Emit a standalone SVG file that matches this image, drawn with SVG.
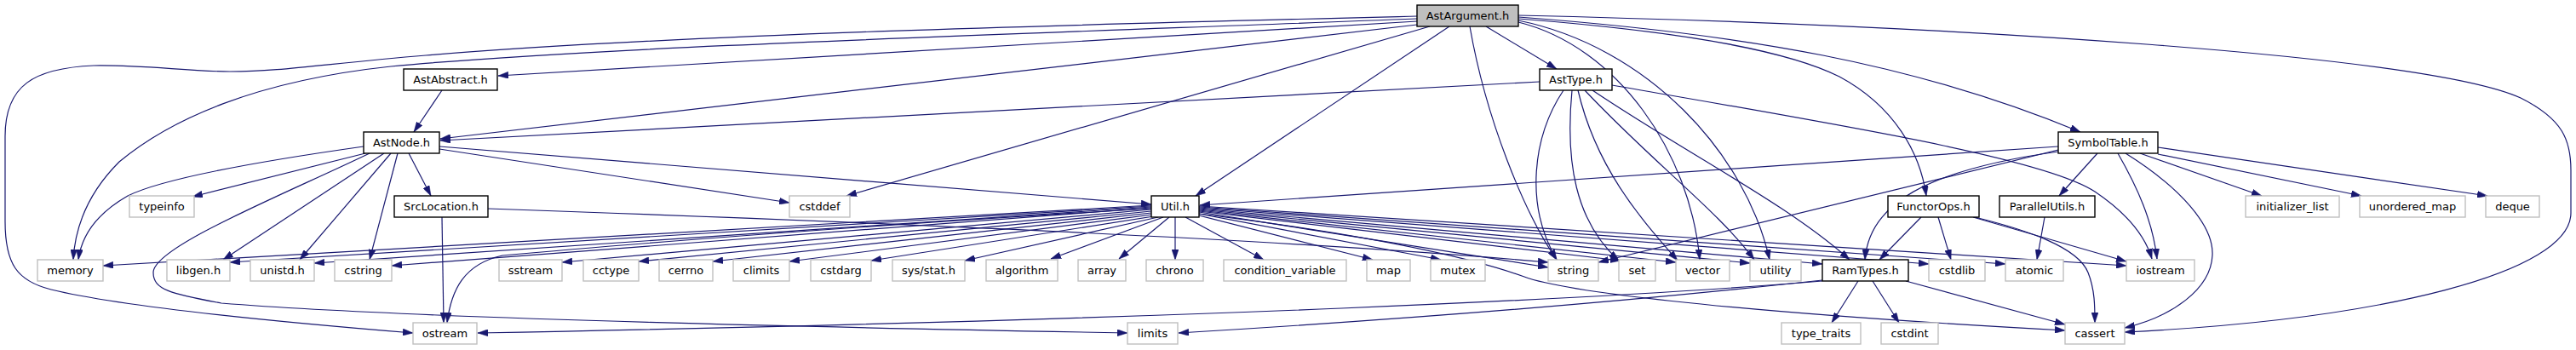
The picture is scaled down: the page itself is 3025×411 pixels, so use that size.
<svg xmlns="http://www.w3.org/2000/svg" width="3025" height="411" viewBox="0 0 3025 411">
<style>
.e path{fill:none;stroke:#191970;stroke-width:1.2;marker-end:url(#a)}
.inc rect{fill:#fff;stroke:#000;stroke-width:1.4}
.sys rect{fill:#fff;stroke:#bfbfbf;stroke-width:1.4}
.root rect{fill:#bfbfbf;stroke:#000;stroke-width:1.4}
text{font-family:"DejaVu Sans",sans-serif;font-size:13px;text-anchor:middle;fill:#000}
</style>
<defs>
<marker id="a" markerUnits="userSpaceOnUse" markerWidth="12" markerHeight="8" refX="12" refY="4" orient="auto"><path d="M0,0 L12,4 L0,8 z" fill="#191970" stroke="#191970" stroke-width="0.5"/></marker>
</defs>
<rect width="3025" height="411" fill="#fff"/>
<g id="edges" class="e">
<path d="M1664,25 L585,89"/>
<path d="M1664,29 L517,163"/>
<path d="M1745,31 L1828,81"/>
<path d="M1702,31 L1404,230"/>
<path d="M1679,31 L994,230"/>
<path d="M1726,31 C1745,140 1790,250 1828,305"/>
<path d="M1783,26 C1900,55 1985,180 1996,305"/>
<path d="M1783,24 C1935,55 2050,180 2078,305"/>
<path d="M1783,22 C1950,35 2090,55 2160,90 C2225,125 2255,180 2262,230"/>
<path d="M1783,20 C2050,40 2250,75 2443,155"/>
<path d="M1783,18 C2300,30 2850,65 2960,115 C3010,140 3019,165 3019,200 L3019,250 C3019,320 2800,375 2495,390"/>
<path d="M1664,22 C1200,40 700,55 459,78 C300,95 200,140 140,190 C100,230 88,270 86,305"/>
<path d="M1664,19 C1300,28 800,40 500,65 C380,75 330,84 270,84 C220,84 170,76 110,77 C40,80 6,100 6,160 L6,260 C6,310 20,330 60,340 C150,362 350,380 485,391"/>
<path d="M519,106 L486,155"/>
<path d="M1808,96 L517,165"/>
<path d="M1836,106 C1800,160 1790,240 1828,305"/>
<path d="M1846,106 C1838,190 1850,260 1901,306"/>
<path d="M1853,106 C1875,200 1930,260 1970,306"/>
<path d="M1861,106 C1940,190 2020,250 2060,305"/>
<path d="M1870,106 C1980,180 2100,240 2172,305"/>
<path d="M1893,100 C2150,145 2400,185 2460,225 C2500,252 2520,280 2527,304"/>
<path d="M2417,172 L1409,241"/>
<path d="M2417,176 L1877,308"/>
<path d="M2417,178 C2260,200 2195,240 2190,305"/>
<path d="M2463,180 L2418,230"/>
<path d="M2487,180 C2510,220 2528,260 2533,304"/>
<path d="M2496,180 C2560,220 2600,265 2598,300 C2596,340 2550,372 2495,385"/>
<path d="M2513,180 L2656,230"/>
<path d="M2534,181 L2773,230"/>
<path d="M2534,173 L2921,230"/>
<path d="M2256,255 L2207,305"/>
<path d="M2276,255 L2291,305"/>
<path d="M2317,255 L2497,307"/>
<path d="M2319,255 C2380,270 2440,290 2452,320 C2460,340 2460,360 2460,379"/>
<path d="M2401,255 L2392,305"/>
<path d="M2140,330 C1900,350 1400,375 561,391"/>
<path d="M2140,329 C1950,350 1700,372 1384,391"/>
<path d="M2182,330 L2151,379"/>
<path d="M2199,330 L2230,379"/>
<path d="M2238,330 L2425,381"/>
<path d="M519,255 L521,379"/>
<path d="M573,245 C1000,260 1500,280 1818,308"/>
<path d="M427,172 C300,190 190,210 150,230 C115,250 96,275 92,305"/>
<path d="M429,180 L226,231"/>
<path d="M434,180 C330,230 180,290 180,320 C180,340 200,345 260,356 C500,375 1000,385 1324,391"/>
<path d="M451,180 L262,305"/>
<path d="M459,180 L352,305"/>
<path d="M467,180 L434,305"/>
<path d="M480,180 L506,230"/>
<path d="M516,175 L927,238"/>
<path d="M516,172 L1352,240"/>
<path d="M1352,241 L121,312"/>
<path d="M1352,242 L270,308"/>
<path d="M1352,243 L369,309"/>
<path d="M1352,244 L460,312"/>
<path d="M1352,246 L660,308"/>
<path d="M1352,248 L750,307"/>
<path d="M1352,250 L837,307"/>
<path d="M1352,245 C1000,265 700,290 590,300 C545,310 530,340 525,379"/>
<path d="M1353,252 L927,307"/>
<path d="M1355,254 L1023,306"/>
<path d="M1360,255 L1133,306"/>
<path d="M1366,255 L1234,304"/>
<path d="M1373,255 L1314,304"/>
<path d="M1380,255 L1380,305"/>
<path d="M1392,255 L1484,305"/>
<path d="M1408,253 L1612,305"/>
<path d="M1408,251 L1692,305"/>
<path d="M1408,249 L1818,314"/>
<path d="M1408,248 L1903,306"/>
<path d="M1408,247 L1968,308"/>
<path d="M1408,246 L2055,309"/>
<path d="M1408,245 L2140,310"/>
<path d="M1408,244 L2265,310"/>
<path d="M1408,243 L2355,310"/>
<path d="M1408,242 L2497,312"/>
<path d="M1408,251 C1600,275 1720,300 1790,325 C1830,340 2000,365 2425,388"/>
</g>
<g id="n_AstArgument" class="root"><rect x="1664" y="6" width="119" height="25"/><text x="1723.5" y="23">AstArgument.h</text></g>
<g id="n_AstAbstract" class="inc"><rect x="474" y="81" width="110" height="25"/><text x="529" y="98">AstAbstract.h</text></g>
<g id="n_AstType" class="inc"><rect x="1808" y="81" width="85" height="25"/><text x="1850.5" y="98">AstType.h</text></g>
<g id="n_AstNode" class="inc"><rect x="427" y="155" width="89" height="25"/><text x="471.5" y="172">AstNode.h</text></g>
<g id="n_SymbolTable" class="inc"><rect x="2417" y="155" width="117" height="25"/><text x="2475.5" y="172">SymbolTable.h</text></g>
<g id="n_typeinfo" class="sys"><rect x="152" y="230" width="76" height="25"/><text x="190" y="247">typeinfo</text></g>
<g id="n_SrcLocation" class="inc"><rect x="463" y="230" width="110" height="25"/><text x="518" y="247">SrcLocation.h</text></g>
<g id="n_cstddef" class="sys"><rect x="927" y="230" width="71" height="25"/><text x="962.5" y="247">cstddef</text></g>
<g id="n_Util" class="inc"><rect x="1352" y="230" width="56" height="25"/><text x="1380" y="247">Util.h</text></g>
<g id="n_FunctorOps" class="inc"><rect x="2217" y="230" width="107" height="25"/><text x="2270.5" y="247">FunctorOps.h</text></g>
<g id="n_ParallelUtils" class="inc"><rect x="2348" y="230" width="112" height="25"/><text x="2404" y="247">ParallelUtils.h</text></g>
<g id="n_initializer_list" class="sys"><rect x="2637" y="230" width="110" height="25"/><text x="2692" y="247">initializer_list</text></g>
<g id="n_unordered_map" class="sys"><rect x="2771" y="230" width="124" height="25"/><text x="2833" y="247">unordered_map</text></g>
<g id="n_deque" class="sys"><rect x="2919" y="230" width="63" height="25"/><text x="2950.5" y="247">deque</text></g>
<g id="n_memory" class="sys"><rect x="44" y="305" width="77" height="25"/><text x="82.5" y="322">memory</text></g>
<g id="n_libgen" class="sys"><rect x="196" y="305" width="74" height="25"/><text x="233" y="322">libgen.h</text></g>
<g id="n_unistd" class="sys"><rect x="294" y="305" width="75" height="25"/><text x="331.5" y="322">unistd.h</text></g>
<g id="n_cstring" class="sys"><rect x="393" y="305" width="67" height="25"/><text x="426.5" y="322">cstring</text></g>
<g id="n_sstream" class="sys"><rect x="586" y="305" width="74" height="25"/><text x="623" y="322">sstream</text></g>
<g id="n_cctype" class="sys"><rect x="685" y="305" width="65" height="25"/><text x="717.5" y="322">cctype</text></g>
<g id="n_cerrno" class="sys"><rect x="774" y="305" width="63" height="25"/><text x="805.5" y="322">cerrno</text></g>
<g id="n_climits" class="sys"><rect x="861" y="305" width="66" height="25"/><text x="894" y="322">climits</text></g>
<g id="n_cstdarg" class="sys"><rect x="952" y="305" width="71" height="25"/><text x="987.5" y="322">cstdarg</text></g>
<g id="n_sysstat" class="sys"><rect x="1048" y="305" width="85" height="25"/><text x="1090.5" y="322">sys/stat.h</text></g>
<g id="n_algorithm" class="sys"><rect x="1158" y="305" width="84" height="25"/><text x="1200" y="322">algorithm</text></g>
<g id="n_array" class="sys"><rect x="1266" y="305" width="56" height="25"/><text x="1294" y="322">array</text></g>
<g id="n_chrono" class="sys"><rect x="1346" y="305" width="67" height="25"/><text x="1379.5" y="322">chrono</text></g>
<g id="n_condition_variable" class="sys"><rect x="1437" y="305" width="144" height="25"/><text x="1509" y="322">condition_variable</text></g>
<g id="n_map" class="sys"><rect x="1605" y="305" width="51" height="25"/><text x="1630.5" y="322">map</text></g>
<g id="n_mutex" class="sys"><rect x="1680" y="305" width="64" height="25"/><text x="1712" y="322">mutex</text></g>
<g id="n_string" class="sys"><rect x="1818" y="305" width="59" height="25"/><text x="1847.5" y="322">string</text></g>
<g id="n_set" class="sys"><rect x="1901" y="305" width="43" height="25"/><text x="1922.5" y="322">set</text></g>
<g id="n_vector" class="sys"><rect x="1968" y="305" width="63" height="25"/><text x="1999.5" y="322">vector</text></g>
<g id="n_utility" class="sys"><rect x="2055" y="305" width="60" height="25"/><text x="2085" y="322">utility</text></g>
<g id="n_RamTypes" class="inc"><rect x="2140" y="305" width="101" height="25"/><text x="2190.5" y="322">RamTypes.h</text></g>
<g id="n_cstdlib" class="sys"><rect x="2265" y="305" width="66" height="25"/><text x="2298" y="322">cstdlib</text></g>
<g id="n_atomic" class="sys"><rect x="2355" y="305" width="68" height="25"/><text x="2389" y="322">atomic</text></g>
<g id="n_iostream" class="sys"><rect x="2497" y="305" width="80" height="25"/><text x="2537" y="322">iostream</text></g>
<g id="n_ostream" class="sys"><rect x="485" y="379" width="75" height="25"/><text x="522.5" y="396">ostream</text></g>
<g id="n_limits" class="sys"><rect x="1324" y="379" width="59" height="25"/><text x="1353.5" y="396">limits</text></g>
<g id="n_type_traits" class="sys"><rect x="2092" y="379" width="93" height="25"/><text x="2138.5" y="396">type_traits</text></g>
<g id="n_cstdint" class="sys"><rect x="2209" y="379" width="67" height="25"/><text x="2242.5" y="396">cstdint</text></g>
<g id="n_cassert" class="sys"><rect x="2425" y="379" width="70" height="25"/><text x="2460" y="396">cassert</text></g>
</svg>
